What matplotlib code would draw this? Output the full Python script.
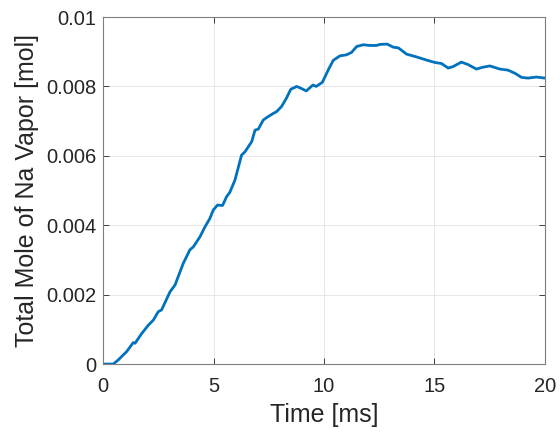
import matplotlib
matplotlib.use('Agg')
import matplotlib.pyplot as plt

plt.rcParams['font.family'] = ['Liberation Sans', 'DejaVu Sans']

# Na vapour inventory over time
time_ms = [0, 0.46, 0.69, 1.07, 1.37, 1.45, 1.75, 2.05, 2.28, 2.5, 2.65, 3.03, 3.26,
           3.63, 3.93, 4.09, 4.39, 4.62, 4.84, 4.99, 5.18, 5.41, 5.59, 5.74, 5.97,
           6.27, 6.43, 6.73, 6.88, 7.03, 7.25, 7.4, 7.7, 7.85, 8.08, 8.3, 8.5, 8.68,
           8.76, 8.98, 9.2, 9.5, 9.65, 9.93, 10.19, 10.42, 10.72, 11.02, 11.25, 11.48,
           11.78, 12.08, 12.38, 12.53, 12.86, 13.14, 13.37, 13.74, 14.19, 14.64,
           15.02, 15.32, 15.62, 15.84, 16.22, 16.52, 16.9, 17.17, 17.51, 17.96,
           18.33, 18.64, 18.94, 19.24, 19.62, 20.0]
na_mol = [0, 0, 0.00012, 0.00036, 0.00062, 0.0006, 0.00088, 0.00112, 0.00127,
          0.00151, 0.00156, 0.00208, 0.00228, 0.0029, 0.00329, 0.00338, 0.00367,
          0.00396, 0.0042, 0.00444, 0.00458, 0.00457, 0.00482, 0.00495, 0.0053,
          0.00602, 0.00612, 0.00641, 0.00674, 0.00677, 0.00703, 0.0071, 0.00722,
          0.00727, 0.00742, 0.00766, 0.00792, 0.00797, 0.008, 0.00794, 0.00787,
          0.00804, 0.008, 0.00812, 0.00847, 0.00875, 0.00888, 0.00891, 0.00898,
          0.00915, 0.0092, 0.00918, 0.00918, 0.00921, 0.00922, 0.00913, 0.00911,
          0.00893, 0.00885, 0.00876, 0.00869, 0.00866, 0.00853, 0.00857, 0.0087,
          0.00863, 0.0085, 0.00855, 0.00859, 0.0085, 0.00847, 0.00838, 0.00826,
          0.00824, 0.00827, 0.00824]

xticks = [0, 5, 10, 15, 20]
yticks = [0, 0.002, 0.004, 0.006, 0.008, 0.01]
ytick_labels = ['0', '0.002', '0.004', '0.006', '0.008', '0.01']

fig = plt.figure(figsize=(5.6, 4.36), dpi=100)
ax = fig.add_axes([0.184, 0.165, 0.789, 0.796])
ax.plot(time_ms, na_mol, color='#0072BD', linewidth=2.0)

ax.set_xlim(0, 20)
ax.set_ylim(0, 0.01)
ax.set_xticks(xticks)
ax.set_xticklabels([str(t) for t in xticks])
ax.set_yticks(yticks)
ax.set_yticklabels(ytick_labels)

dark = '#262626'
ax.grid(True, color='#e3e3e3', linewidth=0.6)
ax.set_axisbelow(True)
ax.tick_params(direction='in', length=4, width=0.6, colors=dark,
               labelsize=14.5, top=True, right=True, pad=5)
ax.tick_params(axis='x', pad=9)
for s in ax.spines.values():
    s.set_color('#7f7f7f')
    s.set_linewidth(0.8)

ax.set_xlabel('Time [ms]', fontsize=18, color=dark, labelpad=5)
ax.set_ylabel('Total Mole of Na Vapor [mol]', fontsize=18, color=dark, labelpad=5)

fig.savefig('out.png', dpi=100)
